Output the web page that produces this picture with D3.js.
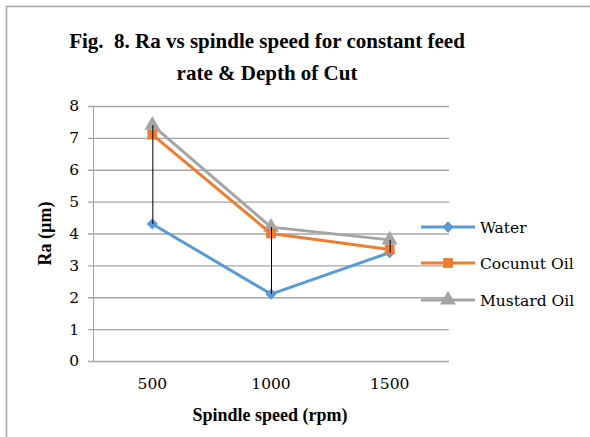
<!DOCTYPE html>
<html>
<head>
<meta charset="utf-8">
<script src="https://cdn.jsdelivr.net/npm/d3@7"></script>
<style>
  body { margin: 0; background: #fff; }
</style>
</head>
<body>
<svg id="chart"></svg>
<script>
// chart data
const speeds = ["500", "1000", "1500"];
const water = [4.3, 2.1, 3.4];
const coconutOil = [7.1, 4.0, 3.5];
const mustardOil = [7.4, 4.2, 3.8];
const yTicks = [0, 1, 2, 3, 4, 5, 6, 7, 8];

const seriesNames = ["Water", "Cocunut Oil", "Mustard Oil"];
const seriesColors = ["#5b9bd5", "#ed7d31", "#a5a5a5"];
const seriesSymbols = [d3.symbolSquare, d3.symbolSquare, d3.symbolTriangle];
const symbolRotate = [45, 0, 0];
const symbolSize = [64, 96, 110];

const width = 590, height = 437;
const serifBold = "'Liberation Serif', 'Times New Roman', serif";
const serif = "'DejaVu Serif', serif";

// plot area
const plotLeft = 93, plotRight = 449, plotTop = 106, plotBottom = 361;

const svg = d3.select("#chart")
    .attr("width", width)
    .attr("height", height);

// chart frame (only top and left edge are in view)
svg.append("path")
    .attr("d", `M6.5,${height} V6.5 H${width}`)
    .attr("fill", "none")
    .attr("stroke", "#a6a6a6")
    .attr("stroke-width", 1.5);

// title
const title = svg.append("text")
    .attr("text-anchor", "middle")
    .attr("font-weight", "bold")
    .style("font-size", "21px")
    .style("font-family", serifBold)
    .style("white-space", "pre")
    .attr("fill", "#000");
title.append("tspan").attr("x", 267).attr("y", 48).text("Fig.  8. Ra vs spindle speed for constant feed");
title.append("tspan").attr("x", 267).attr("y", 80).text("rate & Depth of Cut");

const x = d3.scaleBand()
    .domain(speeds)
    .range([plotLeft, plotRight]);

const y = d3.scaleLinear()
    .domain([0, 8])
    .range([plotBottom, plotTop]);

const cx = d => x(d) + x.bandwidth() / 2;

// gridlines + y axis
const yAxis = svg.append("g")
    .attr("transform", `translate(${plotLeft},0)`)
    .call(d3.axisLeft(y).tickValues(yTicks).tickSize(5).tickPadding(9).tickFormat(d3.format("d")));
yAxis.select(".domain").attr("stroke", "#a6a6a6").attr("d", `M0.5,${plotTop} V${plotBottom}`);
yAxis.selectAll(".tick line")
    .attr("x1", -5).attr("x2", plotRight - plotLeft)
    .attr("stroke", "#a6a6a6").attr("stroke-width", 1.3);
yAxis.selectAll(".tick text")
    .style("font-family", serif)
    .style("font-size", "15.5px")
    .attr("fill", "#000");

// x axis
const xAxis = svg.append("g")
    .attr("transform", `translate(0,${plotBottom})`)
    .call(d3.axisBottom(x).tickSize(0).tickPadding(17));
xAxis.select(".domain").remove();
xAxis.selectAll(".tick text")
    .style("font-family", serif)
    .style("font-size", "15.5px")
    .attr("fill", "#000");

// axis titles
svg.append("text")
    .attr("x", 270).attr("y", 421)
    .attr("text-anchor", "middle")
    .attr("font-weight", "bold")
    .style("font-family", serifBold)
    .style("font-size", "18px")
    .text("Spindle speed (rpm)");

svg.append("text")
    .attr("transform", `translate(51,${(plotTop + plotBottom) / 2}) rotate(-90)`)
    .attr("text-anchor", "middle")
    .attr("font-weight", "bold")
    .style("font-family", serifBold)
    .style("font-size", "18px")
    .text("Ra (µm)");

// series
const allSeries = [water, coconutOil, mustardOil];
const line = d3.line().x((d, i) => cx(speeds[i])).y(d => y(d));

allSeries.forEach((vals, s) => {
  svg.append("path")
      .datum(vals)
      .attr("d", line)
      .attr("fill", "none")
      .attr("stroke", seriesColors[s])
      .attr("stroke-width", 3)
      .attr("stroke-linejoin", "round");
});

// markers
[0, 2, 1].forEach(s => {
  svg.append("g").selectAll("path")
    .data(allSeries[s])
    .join("path")
      .attr("transform", (d, i) => `translate(${cx(speeds[i])},${y(d)}) rotate(${symbolRotate[s]})`)
      .attr("d", d3.symbol(seriesSymbols[s], symbolSize[s]))
      .attr("fill", seriesColors[s]);
});

// high-low lines
svg.append("g").selectAll("line")
  .data(speeds)
  .join("line")
    .attr("x1", d => cx(d) + 0.5).attr("x2", d => cx(d) + 0.5)
    .attr("y1", (d, i) => y(d3.min(allSeries, v => v[i])))
    .attr("y2", (d, i) => y(d3.max(allSeries, v => v[i])))
    .attr("stroke", "#000")
    .attr("stroke-width", 1);

// legend
const legend = svg.append("g");
const legendY = [227, 263, 300];
seriesNames.forEach((name, s) => {
  const g = legend.append("g").attr("transform", `translate(421,${legendY[s]})`);
  g.append("line")
      .attr("x1", 0).attr("x2", 54)
      .attr("stroke", seriesColors[s])
      .attr("stroke-width", 3);
  g.append("path")
      .attr("transform", `translate(27,0) rotate(${symbolRotate[s]})`)
      .attr("d", d3.symbol(seriesSymbols[s], symbolSize[s]))
      .attr("fill", seriesColors[s]);
  g.append("text")
      .attr("x", 59).attr("y", 6)
      .style("font-family", serif)
      .style("font-size", "15.5px")
      .text(name);
});
</script>
</body>
</html>
